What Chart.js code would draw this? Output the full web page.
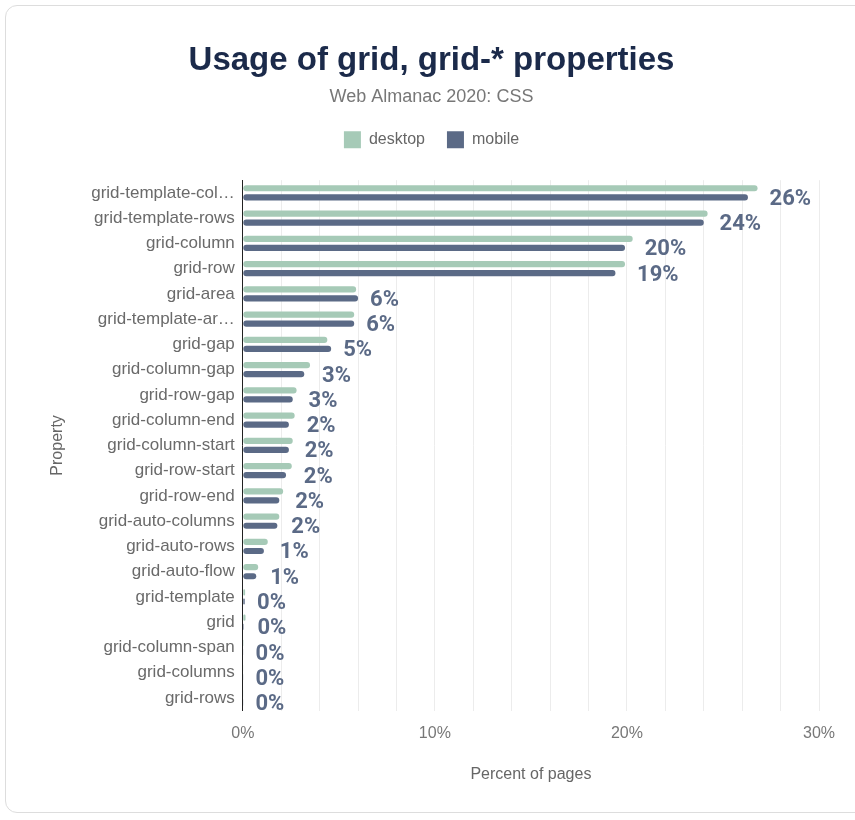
<!DOCTYPE html>
<html lang="en">
<head>
    <meta charset="UTF-8">
    <title>Usage of grid, grid-* properties</title>
    <style>
        html, body { margin: 0; padding: 0; background: #fff; }
        #card {
            position: absolute; left: 5px; top: 5px; width: 870px; height: 808px;
            border: 1px solid #ddd; border-radius: 12px; box-sizing: border-box;
        }
        #wrap { position: absolute; left: 0; top: 0; width: 855px; height: 820px; }
    </style>
</head>
<body>
    <div id="card"></div>
    <div id="wrap"><canvas id="gridChart"></canvas></div>

    <script src="https://cdn.jsdelivr.net/npm/chart.js"></script>
    <script>
        // property names (top to bottom)
        const categories = [
            'grid-template-columns', 'grid-template-rows', 'grid-column', 'grid-row',
            'grid-area', 'grid-template-areas', 'grid-gap', 'grid-column-gap',
            'grid-row-gap', 'grid-column-end', 'grid-column-start', 'grid-row-start',
            'grid-row-end', 'grid-auto-columns', 'grid-auto-rows', 'grid-auto-flow',
            'grid-template', 'grid', 'grid-column-span', 'grid-columns', 'grid-rows'
        ];

        // percent of pages
        const desktop = [26.8, 24.2, 20.3, 19.9, 5.9, 5.8, 4.4, 3.5, 2.8, 2.7, 2.6, 2.55, 2.1, 1.9, 1.3, 0.8, 0.12, 0.14, 0.04, 0.03, 0.03];
        const mobile  = [26.3, 24.0, 19.9, 19.4, 6.0, 5.8, 4.6, 3.2, 2.6, 2.4, 2.4, 2.25, 1.9, 1.8, 1.1, 0.7, 0.1, 0.05, 0.03, 0.02, 0.02];

        // x axis ticks: gridline every 2%, label every 10%
        const xTickLabels = ['0%', '10%', '20%', '30%'];

        const DESKTOP_COLOR = '#a6cab7';
        const MOBILE_COLOR = '#5b6a86';
        const FONT = '"Liberation Sans", Arial, sans-serif';

        // cut long names to fit like the original
        const measure = document.createElement('canvas').getContext('2d');
        measure.font = '17px ' + FONT;
        function fitLabel(text, maxW) {
            if (measure.measureText(text).width <= maxW) return text;
            let t = text;
            while (t.length > 1 && measure.measureText(t + '…').width > maxW) t = t.slice(0, -1);
            return t + '…';
        }

        // value labels next to each pair of bars (mobile value)
        const valueLabels = {
            id: 'valueLabels',
            afterDatasetsDraw(chart) {
                const ctx = chart.ctx;
                const dMeta = chart.getDatasetMeta(0);
                const mMeta = chart.getDatasetMeta(1);
                ctx.save();
                ctx.font = 'bold 22px Roboto, ' + FONT;
                ctx.fillStyle = MOBILE_COLOR;
                ctx.textAlign = 'left';
                ctx.textBaseline = 'middle';
                mMeta.data.forEach((bar, i) => {
                    const x = Math.max(bar.x, dMeta.data[i].x) + 12;
                    ctx.fillText(Math.round(mobile[i]) + '%', x, bar.y + 2);
                });
                ctx.restore();
            }
        };

        // extra space under the legend
        const legendGap = {
            id: 'legendGap',
            beforeInit(chart) {
                const fit = chart.legend.fit;
                chart.legend.fit = function () {
                    fit.call(this);
                    this.height += 22;
                };
            }
        };

        const ctx = document.getElementById('gridChart').getContext('2d');
        const gridChart = new Chart(ctx, {
            type: 'bar',
            data: {
                labels: categories,
                datasets: [
                    { label: 'desktop', data: desktop, backgroundColor: DESKTOP_COLOR, borderRadius: 3, borderSkipped: false },
                    { label: 'mobile', data: mobile, backgroundColor: MOBILE_COLOR, borderRadius: 3, borderSkipped: false }
                ]
            },
            options: {
                indexAxis: 'y',
                responsive: true,
                maintainAspectRatio: false,
                animation: false,
                categoryPercentage: 0.72,
                barPercentage: 0.68,
                layout: { padding: { top: 41, left: 44, right: 36, bottom: 32 } },
                plugins: {
                    title: {
                        display: true,
                        text: 'Usage of grid, grid-* properties',
                        color: '#1b2a4a',
                        font: { family: FONT, size: 33, weight: 'bold' },
                        padding: { top: 0, bottom: 6 }
                    },
                    subtitle: {
                        display: true,
                        text: 'Web Almanac 2020: CSS',
                        color: '#777',
                        font: { family: FONT, size: 18 },
                        padding: { bottom: 1 }
                    },
                    legend: {
                        position: 'top',
                        labels: {
                            boxWidth: 17, boxHeight: 17, padding: 22, color: '#666',
                            font: { family: FONT, size: 16 }
                        }
                    },
                    tooltip: { enabled: false }
                },
                scales: {
                    x: {
                        min: 0, max: 30,
                        ticks: {
                            stepSize: 2,
                            autoSkip: false,
                            maxRotation: 0,
                            color: '#777',
                            padding: 13,
                            font: { family: FONT, size: 16 },
                            callback: (v) => (v % 10 === 0 ? xTickLabels[v / 10] : '')
                        },
                        grid: { color: '#ececec', drawTicks: false },
                        border: { display: false },
                        title: {
                            display: true, text: 'Percent of pages', color: '#666',
                            font: { family: FONT, size: 16 },
                            padding: { top: 9 }
                        }
                    },
                    y: {
                        ticks: {
                            color: '#6a6a6a',
                            padding: 8,
                            autoSkip: false,
                            font: { family: FONT, size: 17 },
                            callback: function (v) { return fitLabel(this.getLabelForValue(v), 146); }
                        },
                        grid: { display: false, drawTicks: false },
                        border: { display: true, color: '#222', width: 1 },
                        title: {
                            display: true, text: 'Property', color: '#666',
                            font: { family: FONT, size: 16 },
                            padding: { bottom: 16 }
                        }
                    }
                }
            },
            plugins: [valueLabels, legendGap]
        });
    </script>
</body>
</html>
